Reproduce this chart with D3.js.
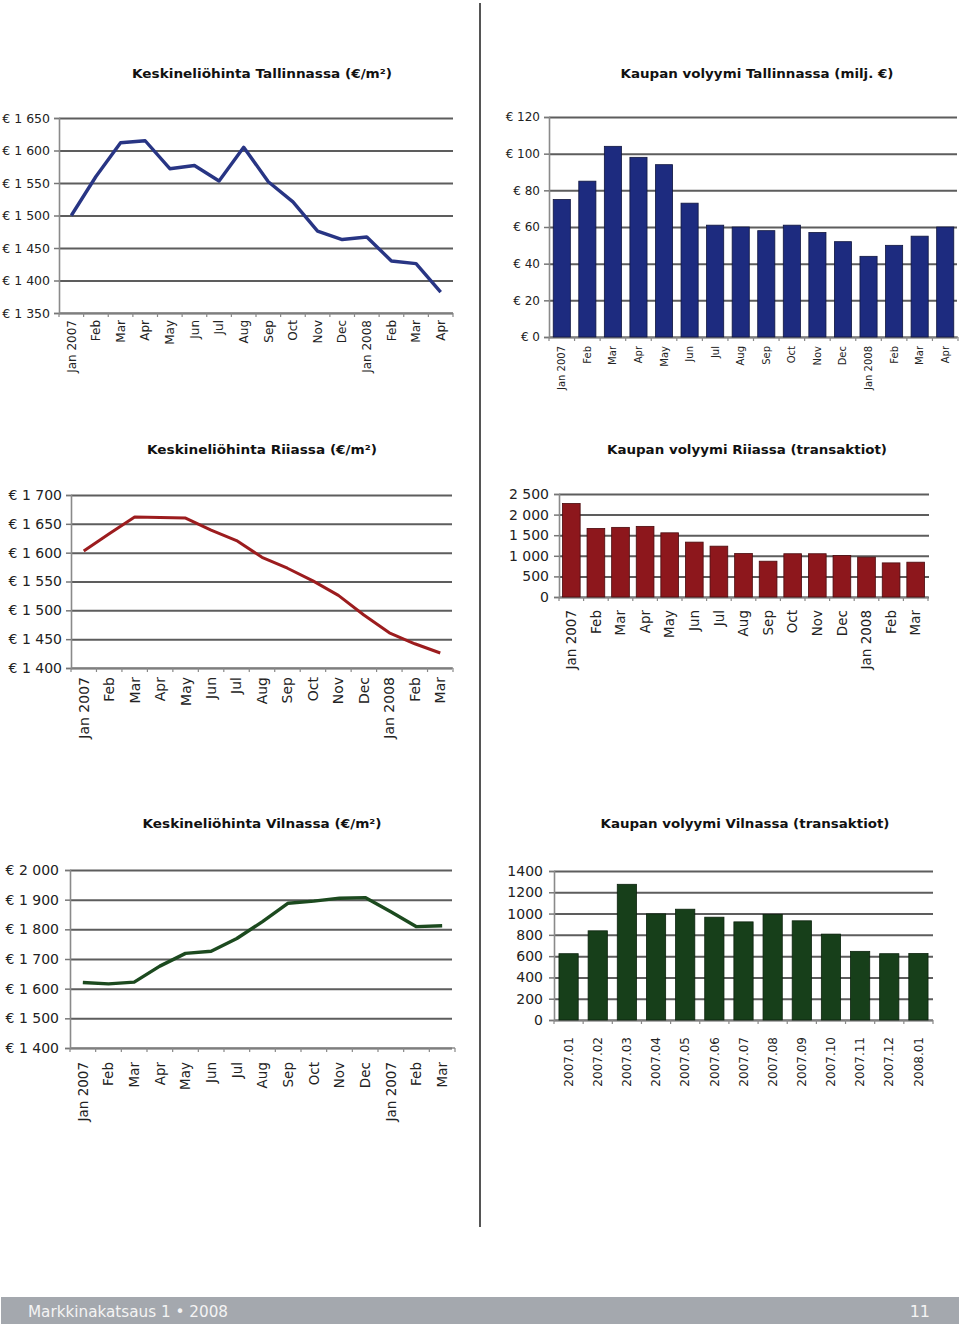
<!DOCTYPE html>
<html><head><meta charset="utf-8">
<script src="https://cdn.jsdelivr.net/npm/d3@7"></script>
<style>body{margin:0;background:#fff;} svg{display:block}</style>
</head><body>
<svg id="c" width="960" height="1327"></svg>
<script>
// ---------- DATA ----------
const tallinnMonths = ["Jan 2007","Feb","Mar","Apr","May","Jun","Jul","Aug","Sep","Oct","Nov","Dec","Jan 2008","Feb","Mar","Apr"];
const tallinnPrice  = [1500,1560,1612,1615,1572,1577,1553,1605,1552,1521,1476,1463,1467,1430,1426,1382];
const tallinnVolume = [75,85,104,98,94,73,61,60,58,61,57,52,44,50,55,60];

const rigaMonths = ["Jan 2007","Feb","Mar","Apr","May","Jun","Jul","Aug","Sep","Oct","Nov","Dec","Jan 2008","Feb","Mar"];
const rigaPrice  = [1603,1633,1662,1661,1660,1639,1621,1592,1573,1551,1526,1492,1461,1442,1426];
const rigaVolume = [2270,1665,1690,1714,1558,1332,1234,1056,869,1050,1050,1007,967,828,845];

const vilniusMonths  = ["Jan 2007","Feb","Mar","Apr","May","Jun","Jul","Aug","Sep","Oct","Nov","Dec","Jan 2007","Feb","Mar"];
const vilniusPrice   = [1621,1616,1622,1676,1719,1726,1769,1826,1888,1895,1905,1907,1859,1809,1812];
const vilniusPeriods = ["2007.01","2007.02","2007.03","2007.04","2007.05","2007.06","2007.07","2007.08","2007.09","2007.10","2007.11","2007.12","2008.01"];
const vilniusVolume  = [623,838,1275,997,1041,966,922,991,932,807,645,623,625];

const tallinnPriceTicks  = [1350,1400,1450,1500,1550,1600,1650];
const tallinnVolumeTicks = [0,20,40,60,80,100,120];
const rigaPriceTicks     = [1400,1450,1500,1550,1600,1650,1700];
const rigaVolumeTicks    = [0,500,1000,1500,2000,2500];
const vilniusPriceTicks  = [1400,1500,1600,1700,1800,1900,2000];
const vilniusVolumeTicks = [0,200,400,600,800,1000,1200,1400];

const titles = [
  "Keskineliöhinta Tallinnassa (€/m²)",
  "Kaupan volyymi Tallinnassa (milj. €)",
  "Keskineliöhinta Riiassa (€/m²)",
  "Kaupan volyymi Riiassa (transaktiot)",
  "Keskineliöhinta Vilnassa (€/m²)",
  "Kaupan volyymi Vilnassa (transaktiot)"
];
const footerLeft = "Markkinakatsaus 1 • 2008";
const footerRight = "11";

// ---------- HELPERS ----------
const svg = d3.select("#c");
const FONT = "'DejaVu Sans', Verdana, sans-serif";
const spaced = v => d3.format(",")(v).replace(/,/g, " ");
const euro = v => "€ " + spaced(v);

function chart(cfg) {
  const g = svg.append("g");
  const n = cfg.labels.length;
  const x = d3.scaleBand().domain(d3.range(n)).range([cfg.x0, cfg.x1]).padding(0);
  const y = d3.scaleLinear().domain(cfg.domain).range([cfg.yBot, cfg.yTop]);

  // gridlines
  const grid = g.append("g").attr("transform", `translate(${cfg.x0},0)`)
    .call(d3.axisLeft(y).tickValues(cfg.ticks).tickSize(-(cfg.gx1 - cfg.x0)).tickFormat(""));
  grid.select(".domain").remove();
  grid.selectAll("line").attr("stroke", "#5d5d5d").attr("stroke-width", 2);

  // y axis labels + ticks
  const ya = g.append("g").attr("transform", `translate(${cfg.x0},0)`)
    .call(d3.axisLeft(y).tickValues(cfg.ticks).tickSize(5).tickPadding(cfg.pad || 4).tickFormat(cfg.fmt));
  ya.select(".domain").attr("stroke", "#8a8a8a").attr("stroke-width", 1.6);
  ya.selectAll("line").attr("stroke", "#777").attr("stroke-width", 1.5);
  ya.selectAll("text").attr("font-family", FONT).attr("font-size", cfg.yfs).attr("fill", "#222");

  // x axis line and edge ticks
  g.append("line").attr("x1", cfg.x0).attr("x2", cfg.x1).attr("y1", cfg.yBot).attr("y2", cfg.yBot)
    .attr("stroke", "#8a8a8a").attr("stroke-width", 1.6);
  const edges = d3.range(n).map(i => x(i)).concat([x(n - 1) + x.bandwidth()]);
  g.selectAll(".xt").data(edges).join("line").attr("class", "xt")
    .attr("x1", d => d).attr("x2", d => d).attr("y1", cfg.yBot).attr("y2", cfg.yBot + 4)
    .attr("stroke", "#888").attr("stroke-width", 1.2);

  // x labels
  g.selectAll(".xl").data(cfg.labels).join("text").attr("class", "xl")
    .attr("transform", (d, i) => `translate(${x(i) + x.bandwidth() / 2},${cfg.yBot + cfg.xgap}) rotate(-90)`)
    .attr("text-anchor", "end").attr("dy", "0.35em")
    .attr("font-family", FONT).attr("font-size", cfg.xfs).attr("fill", "#222")
    .text(d => d);

  // marks
  if (cfg.type === "line") {
    const line = d3.line().x((d, i) => x(i) + x.bandwidth() / 2).y(d => y(d));
    g.append("path").datum(cfg.values).attr("d", line).attr("fill", "none")
      .attr("stroke", cfg.color).attr("stroke-width", cfg.lw).attr("stroke-linejoin", "round");
  } else {
    const bw = x.bandwidth() * (1 - cfg.barPad);
    g.selectAll(".bar").data(cfg.values).join("rect").attr("class", "bar")
      .attr("x", (d, i) => x(i) + (x.bandwidth() - bw) / 2).attr("width", bw)
      .attr("y", d => y(d)).attr("height", d => y(cfg.domain[0]) - y(d))
      .attr("fill", cfg.color).attr("stroke", cfg.stroke).attr("stroke-width", 0.8);
  }
}

// ---------- CHARTS ----------
chart({type: "line", labels: tallinnMonths, values: tallinnPrice, domain: [1350, 1650], ticks: tallinnPriceTicks,
  x0: 59, x1: 453, gx1: 453, yTop: 118, yBot: 313, fmt: euro, yfs: 12.5, xfs: 12, xgap: 7,
  color: "#283584", lw: 3.4});
chart({type: "bar", labels: tallinnMonths, values: tallinnVolume, domain: [0, 120], ticks: tallinnVolumeTicks,
  x0: 549, x1: 958, gx1: 957, yTop: 117, yBot: 337, fmt: euro, yfs: 12, xfs: 10, xgap: 9,
  color: "#1d2b7f", stroke: "#10163f", barPad: 0.33});
chart({type: "line", labels: rigaMonths, values: rigaPrice, domain: [1400, 1700], ticks: rigaPriceTicks,
  x0: 71, x1: 453, gx1: 452, yTop: 495, yBot: 668, fmt: euro, yfs: 14, xfs: 14, xgap: 9,
  color: "#9c1c1e", lw: 3});
chart({type: "bar", labels: rigaMonths, values: rigaVolume, domain: [0, 2500], ticks: rigaVolumeTicks,
  x0: 559, x1: 928, gx1: 929, yTop: 494, yBot: 597, fmt: spaced, yfs: 14, xfs: 13.5, xgap: 13, pad: 5,
  color: "#8d171c", stroke: "#4a0b0e", barPad: 0.28});
chart({type: "line", labels: vilniusMonths, values: vilniusPrice, domain: [1400, 2000], ticks: vilniusPriceTicks,
  x0: 70, x1: 455, gx1: 452, yTop: 870, yBot: 1048, fmt: euro, yfs: 14, xfs: 13.5, xgap: 14, pad: 6,
  color: "#1c4a1f", lw: 3.4});
chart({type: "bar", labels: vilniusPeriods, values: vilniusVolume, domain: [0, 1400], ticks: vilniusVolumeTicks,
  x0: 554, x1: 933, gx1: 933, yTop: 871, yBot: 1020, fmt: d => String(d), yfs: 14, xfs: 12, xgap: 17, pad: 6,
  color: "#173f1a", stroke: "#0b220d", barPad: 0.34});

// ---------- TITLES ----------
const titlePos = [[262, 78, 260], [757, 78, 273], [262, 454, 230], [747, 454, 280], [262, 828, 239], [745, 828, 289]];
svg.selectAll(".title").data(titles).join("text").attr("class", "title")
  .attr("x", (d, i) => titlePos[i][0]).attr("y", (d, i) => titlePos[i][1])
  .attr("text-anchor", "middle").attr("font-family", FONT).attr("font-weight", "bold")
  .attr("font-size", 13).attr("fill", "#111")
  .attr("textLength", (d, i) => titlePos[i][2]).attr("lengthAdjust", "spacingAndGlyphs")
  .text(d => d);

// divider
svg.append("line").attr("x1", 480).attr("x2", 480).attr("y1", 3).attr("y2", 1227)
  .attr("stroke", "#555").attr("stroke-width", 2);

// footer
svg.append("rect").attr("x", 1).attr("y", 1297).attr("width", 958).attr("height", 27).attr("fill", "#a4a8ae");
svg.append("text").attr("x", 28).attr("y", 1317).attr("font-family", FONT).attr("font-size", 16)
  .attr("fill", "#f4f4f4").attr("textLength", 200).attr("lengthAdjust", "spacingAndGlyphs").text(footerLeft);
svg.append("text").attr("x", 930).attr("y", 1317).attr("text-anchor", "end").attr("font-family", FONT)
  .attr("font-size", 16).attr("fill", "#f4f4f4").text(footerRight);
</script>
</body></html>
